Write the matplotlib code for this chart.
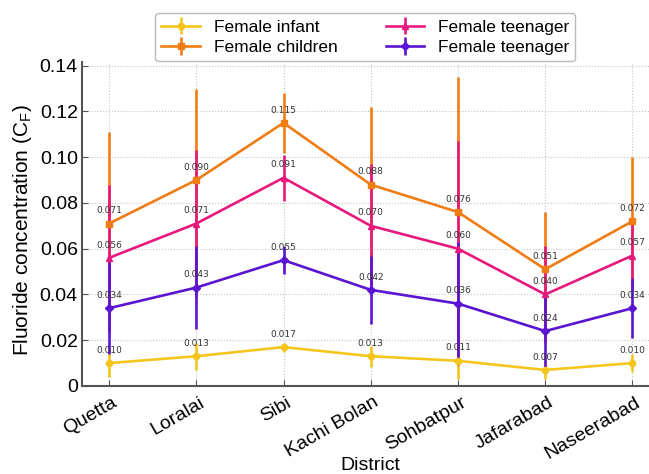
import numpy as np
import matplotlib.pyplot as plt
import matplotlib.transforms as mtransforms

plt.rcParams['font.family'] = ['Liberation Sans', 'DejaVu Sans']

# data
districts = ['Quetta', 'Loralai', 'Sibi', 'Kachi Bolan', 'Sohbatpur', 'Jafarabad', 'Naseerabad']
infant = [0.010, 0.013, 0.017, 0.013, 0.011, 0.007, 0.010]
infant_err = [0.006, 0.006, 0.002, 0.0045, 0.008, 0.004, 0.004]
children = [0.071, 0.090, 0.115, 0.088, 0.076, 0.051, 0.072]
children_err = [0.040, 0.040, 0.013, 0.034, 0.059, 0.025, 0.028]
teen1 = [0.056, 0.071, 0.091, 0.070, 0.060, 0.040, 0.057]
teen1_err = [0.032, 0.032, 0.010, 0.027, 0.047, 0.021, 0.015]
teen2 = [0.034, 0.043, 0.055, 0.042, 0.036, 0.024, 0.034]
teen2_err = [0.020, 0.018, 0.006, 0.015, 0.027, 0.017, 0.013]

yticks = [0, 0.02, 0.04, 0.06, 0.08, 0.10, 0.12, 0.14]
ytick_labels = ['0', '0.02', '0.04', '0.06', '0.08', '0.10', '0.12', '0.14']

series = [
    ('Female infant', infant, infant_err, '#F4C61C', 'o', 4.5),
    ('Female children', children, children_err, '#F07C14', 's', 5),
    ('Female teenager', teen1, teen1_err, '#E8197C', '^', 4.5),
    ('Female teenager', teen2, teen2_err, '#5B14D2', 'D', 4.5),
]

fig = plt.figure(figsize=(6.49, 4.74), dpi=100)
ax = fig.add_axes([0.1264, 0.1857, 0.8736, 0.683])

x = np.arange(len(districts))
for name, vals, errs, col, mk, ms in series:
    ax.errorbar(x, vals, yerr=errs, color=col, marker=mk, markersize=ms,
                lw=1.9, elinewidth=1.9, capsize=0, label=name)
    for xi, v in zip(x, vals):
        ax.annotate('%.3f' % v, (xi, v), xytext=(0, 6), textcoords='offset points',
                    ha='center', va='bottom', fontsize=6.5, color='#333333',
                    family='DejaVu Sans')

ax.set_xlim(-0.31, 6.19)
ax.set_ylim(0, 0.1415)
ax.set_xticks(x)
ax.set_xticklabels([])
# district names drawn as rotated texts, nudged right of each tick
lab_tr = ax.get_xaxis_transform() + mtransforms.ScaledTranslation(0.11, -0.08, fig.dpi_scale_trans)
for xi, name in zip(x, districts):
    ax.text(xi, 0, name, transform=lab_tr, rotation=30, ha='right', va='top',
            fontsize=14, clip_on=False)
ax.set_yticks(yticks)
ax.set_yticklabels(ytick_labels, fontsize=14)
ax.tick_params(direction='in', length=4, color='#555555')
ax.tick_params(axis='y', pad=3)
ax.grid(True, linestyle=':', color='#c4c4c4', lw=0.8)
ax.set_axisbelow(True)
for s in ['top', 'right']:
    ax.spines[s].set_visible(False)
for s in ['left', 'bottom']:
    ax.spines[s].set_color('#555555')
    ax.spines[s].set_linewidth(1.5)

ax.set_ylabel('Fluoride concentration (C$_\\mathregular{F}$)', fontsize=15)
ax.yaxis.set_label_coords(-0.085, 0.48)
ax.set_xlabel('District', fontsize=14)
ax.xaxis.set_label_coords(0.508, -0.219)

fig.legend(loc='upper center', bbox_to_anchor=(0.563, 0.99), ncol=2,
           fontsize=12.5, handlelength=2.2, columnspacing=2.8, labelspacing=0.3,
           borderpad=0.35, edgecolor='#bbbbbb', fancybox=True, framealpha=1)

fig.savefig('out.png', dpi=100)
